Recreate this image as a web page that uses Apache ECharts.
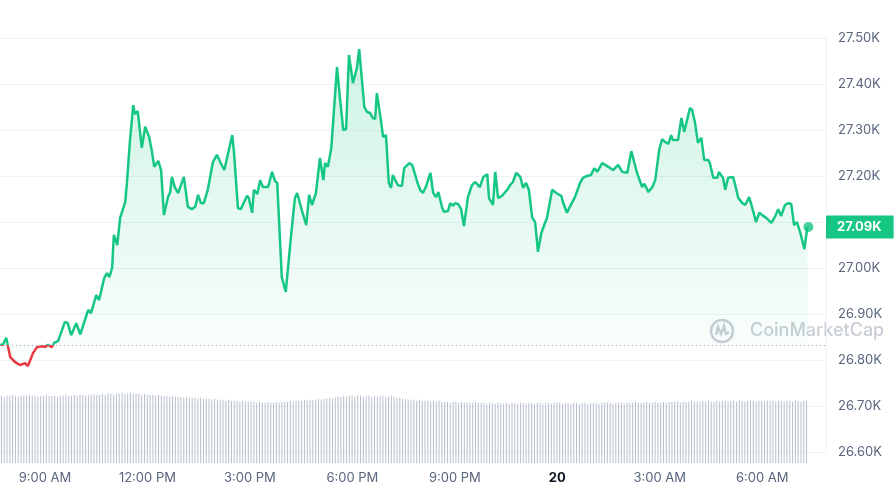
<!DOCTYPE html>
<html>
<head>
<meta charset="utf-8">
<title>BTC price, 24h</title>
<script src="https://cdn.jsdelivr.net/npm/echarts@6/dist/echarts.min.js"></script>
<style>
  html, body { margin: 0; padding: 0; background: #fff; }
  #chart { width: 896px; height: 495px; }
</style>
</head>
<body>
<div id="chart"></div>
<script>
// -- Data --
// time in minutes from midnight of the 19th (1440 = midnight, the "20" tick)
const times = [
  461, 466, 472, 479, 487, 496, 505, 510, 519, 526,
  535, 540, 545, 552, 556, 563, 575, 580, 586, 595,
  602, 616, 621, 630, 635, 644, 649, 653, 658, 661,
  667, 672, 681, 684, 689, 695, 698, 703, 710, 716,
  723, 728, 732, 739, 744, 749, 756, 760, 763, 768,
  774, 784, 791, 798, 804, 809, 814, 819, 826, 835,
  842, 848, 855, 869, 872, 879, 884, 895, 898, 904,
  907, 913, 918, 923, 932, 939, 944, 948, 956, 963,
  971, 979, 983, 992, 999, 1004, 1009, 1016, 1023, 1029,
  1032, 1037, 1043, 1053, 1058, 1064, 1069, 1074, 1081, 1088,
  1092, 1101, 1106, 1111, 1116, 1120, 1123, 1130, 1134, 1139,
  1144, 1148, 1151, 1160, 1167, 1171, 1180, 1185, 1194, 1199,
  1204, 1209, 1217, 1222, 1227, 1231, 1238, 1241, 1248, 1252,
  1257, 1260, 1266, 1271, 1276, 1283, 1290, 1296, 1304, 1310,
  1317, 1320, 1327, 1331, 1336, 1343, 1352, 1357, 1362, 1368,
  1375, 1380, 1385, 1390, 1396, 1401, 1406, 1412, 1419, 1422,
  1426, 1431, 1438, 1447, 1450, 1457, 1462, 1471, 1480, 1485,
  1492, 1499, 1505, 1510, 1519, 1527, 1538, 1547, 1554, 1563,
  1570, 1573, 1580, 1589, 1593, 1600, 1607, 1612, 1619, 1624,
  1629, 1635, 1640, 1643, 1652, 1658, 1663, 1673, 1677, 1682,
  1687, 1693, 1698, 1705, 1708, 1714, 1721, 1724, 1731, 1735,
  1740, 1749, 1758, 1765, 1770, 1777, 1782, 1789, 1795, 1800,
  1807, 1810, 1816, 1823, 1828, 1833, 1840, 1846, 1851, 1856,
  1861, 1867, 1870, 1874, 1879, 1881
];

const prices = [
  26833, 26833, 26848, 26806, 26796, 26789, 26793, 26787, 26815, 26828,
  26830, 26828, 26833, 26828, 26837, 26841, 26883, 26880, 26854, 26880,
  26856, 26909, 26902, 26941, 26930, 26978, 26989, 26980, 27000, 27072,
  27050, 27109, 27143, 27185, 27272, 27354, 27335, 27341, 27261, 27307,
  27285, 27252, 27220, 27233, 27213, 27115, 27154, 27165, 27198, 27176,
  27163, 27198, 27133, 27128, 27133, 27159, 27141, 27141, 27170, 27230,
  27246, 27230, 27213, 27289, 27252, 27130, 27128, 27157, 27152, 27120,
  27170, 27161, 27191, 27176, 27176, 27209, 27189, 27185, 26980, 26948,
  27054, 27152, 27163, 27122, 27093, 27159, 27137, 27163, 27239, 27191,
  27228, 27220, 27261, 27437, 27372, 27300, 27302, 27463, 27402, 27435,
  27476, 27350, 27339, 27337, 27326, 27324, 27380, 27322, 27285, 27289,
  27185, 27174, 27202, 27180, 27178, 27217, 27228, 27224, 27187, 27170,
  27163, 27176, 27207, 27163, 27154, 27165, 27130, 27122, 27124, 27141,
  27135, 27141, 27139, 27128, 27091, 27154, 27180, 27187, 27176, 27198,
  27204, 27152, 27137, 27209, 27152, 27157, 27170, 27180, 27187, 27207,
  27198, 27174, 27185, 27170, 27109, 27100, 27035, 27076, 27100, 27109,
  27137, 27170, 27163, 27157, 27143, 27120, 27133, 27154, 27185, 27196,
  27200, 27202, 27217, 27209, 27228, 27222, 27213, 27224, 27209, 27207,
  27254, 27250, 27207, 27176, 27183, 27165, 27176, 27191, 27257, 27280,
  27274, 27270, 27289, 27278, 27278, 27326, 27296, 27348, 27343, 27315,
  27272, 27283, 27235, 27235, 27228, 27196, 27196, 27209, 27196, 27170,
  27196, 27198, 27152, 27141, 27137, 27154, 27133, 27100, 27120, 27115,
  27109, 27113, 27098, 27113, 27128, 27113, 27137, 27141, 27139, 27093,
  27100, 27076, 27078, 27041, 27087, 27089
];

// 5-minute volume bars (relative units), two hours per row
const volumes = [
  68, 67, 68, 68, 69, 68, 67, 68, 68, 68, 69, 68, 68, 67, 68, 68, 69, 68, 68, 68, 67, 68, 68, 69,
  68, 68, 69, 68, 69, 69, 68, 69, 69, 70, 69, 69, 70, 69, 70, 70, 69, 70, 70, 71, 70, 70, 71, 70,
  70, 70, 69, 70, 69, 69, 69, 68, 69, 68, 68, 68, 67, 68, 67, 67, 67, 66, 67, 66, 66, 66, 65, 66,
  65, 65, 65, 64, 65, 64, 64, 64, 63, 64, 63, 63, 63, 62, 63, 62, 62, 62, 62, 61, 62, 61, 61, 62,
  61, 61, 62, 61, 62, 62, 62, 63, 62, 63, 63, 63, 64, 63, 64, 64, 64, 65, 64, 65, 65, 66, 65, 66,
  67, 67, 68, 67, 68, 68, 67, 68, 68, 67, 68, 68, 67, 68, 67, 68, 68, 67, 67, 68, 67, 66, 66, 65,
  65, 64, 64, 64, 63, 64, 63, 63, 63, 62, 63, 62, 63, 62, 62, 62, 61, 62, 62, 61, 62, 61, 61, 61,
  61, 62, 61, 61, 61, 60, 61, 61, 60, 61, 61, 60, 61, 60, 61, 61, 60, 61, 61, 60, 61, 61, 60, 61,
  61, 60, 61, 61, 60, 61, 61, 61, 60, 61, 61, 60, 61, 61, 60, 61, 61, 60, 61, 61, 61, 60, 61, 61,
  61, 61, 60, 61, 61, 61, 60, 61, 61, 61, 62, 61, 61, 61, 62, 61, 61, 62, 61, 61, 62, 61, 62, 62,
  62, 62, 61, 62, 62, 62, 63, 62, 62, 62, 63, 62, 63, 62, 62, 63, 62, 63, 63, 62, 63, 63, 62, 63,
  63, 62, 63, 63, 63, 62, 63, 63, 62, 63, 63, 63, 62, 63, 63, 62, 63, 63, 62, 63, 63, 62, 63, 63
];

const openPrice = 26833;            // dotted reference line, red below / green above
const labelTimes = [540, 720, 900, 1080, 1260, 1440, 1620, 1800];
const axisEnd = 1912;               // axis runs a little past the last sample

// -- Theme colors --
const COLORS = {
  up: '#16c784',
  down: '#ea3943',
  text: '#58667e',
  strong: '#0d1421',
  grid: '#eff2f5',
  volume: '#b7bfcc',
  watermark: '#c9ced6'
};

const fmtK = v => (v / 1000).toFixed(2) + 'K';

function clock(m) {
  if (m === 1440) return '{day|20}';
  const h = Math.floor(m / 60) % 24;
  const mm = String(m % 60).padStart(2, '0');
  const h12 = h % 12 === 0 ? 12 : h % 12;
  return `${h12}:${mm} ${h < 12 ? 'AM' : 'PM'}`;
}

const priceData = times.map((t, i) => [t, prices[i]]);
const last = priceData[priceData.length - 1];
const volSlots = volumes.map((_, i) => i);

const chart = echarts.init(document.getElementById('chart'), null, { renderer: 'canvas' });

chart.setOption({
  animation: false,
  textStyle: { fontFamily: 'Inter, "Noto Sans", sans-serif' },
  grid: [
    { left: 0, right: 70, top: 38, bottom: 43 },
    { left: 0, right: 88, top: 380, bottom: 32 }
  ],
  visualMap: {
    show: false,
    type: 'piecewise',
    seriesIndex: 0,
    dimension: 1,
    pieces: [
      { gte: 26000, lt: openPrice, color: COLORS.down },
      { gte: openPrice, lte: 28000, color: COLORS.up }
    ],
    outOfRange: { color: COLORS.up }
  },
  xAxis: [
    {
      type: 'value',
      gridIndex: 0,
      min: times[0],
      max: axisEnd,
      axisLine: { show: false },
      axisTick: { show: false },
      splitLine: { show: false },
      axisLabel: {
        customValues: labelTimes,
        formatter: clock,
        color: COLORS.text,
        fontSize: 13,
        margin: 20,
        rich: { day: { fontWeight: 'bold', color: COLORS.strong, fontSize: 13 } }
      }
    },
    {
      type: 'category',
      gridIndex: 1,
      data: volSlots,
      show: false
    }
  ],
  yAxis: [
    {
      type: 'value',
      gridIndex: 0,
      position: 'right',
      min: 26600,
      max: 27500,
      interval: 100,
      axisLine: { show: true, lineStyle: { color: COLORS.grid } },
      axisTick: { show: false },
      splitLine: { lineStyle: { color: COLORS.grid } },
      axisLabel: {
        color: COLORS.text,
        fontSize: 13,
        margin: 12,
        // the live price tag covers the tick it sits on
        formatter: v => (Math.abs(v - last[1]) < 25 ? '' : fmtK(v))
      },
      axisPointer: {
        show: true,
        type: 'line',
        value: last[1],
        status: 'show',
        triggerTooltip: false,
        lineStyle: { width: 0, opacity: 0 },
        label: {
          show: true,
          margin: 0,
          backgroundColor: COLORS.up,
          color: '#fff',
          fontWeight: 'bold',
          fontSize: 13,
          padding: [5, 12, 5, 11],
          borderRadius: 0,
          shadowBlur: 0,
          formatter: p => fmtK(p.value)
        }
      }
    },
    { type: 'value', gridIndex: 1, min: 0, max: 84, show: false }
  ],
  graphic: [
    { type: 'circle', silent: true, shape: { cx: 722, cy: 331, r: 11 },
      style: { fill: 'none', stroke: COLORS.watermark, lineWidth: 2.5 } },
    { type: 'polyline', silent: true,
      shape: { points: [[716, 335], [718, 327], [721, 334], [724, 326], [726, 334], [729, 332]] },
      style: { fill: 'none', stroke: COLORS.watermark, lineWidth: 2.5 } },
    { type: 'text', silent: true,
      style: { x: 750, y: 331, text: 'CoinMarketCap', verticalAlign: 'middle',
               font: '500 18px Inter, sans-serif', fill: COLORS.watermark } }
  ],
  series: [
    {
      type: 'line',
      xAxisIndex: 0,
      yAxisIndex: 0,
      data: priceData,
      showSymbol: false,
      lineStyle: { width: 2.5 },
      areaStyle: {
        origin: openPrice,
        color: new echarts.graphic.LinearGradient(0, 0, 0, 1, [
          { offset: 0, color: 'rgba(22,199,132,0.30)' },
          { offset: 1, color: 'rgba(22,199,132,0.02)' }
        ])
      },
      markLine: {
        silent: true,
        symbol: 'none',
        label: { show: false },
        lineStyle: { type: [1, 3], color: '#9aa5b8', width: 1 },
        data: [{ yAxis: openPrice }]
      },
      z: 3
    },
    {
      type: 'scatter',
      xAxisIndex: 0,
      yAxisIndex: 0,
      data: [last],
      symbolSize: 10,
      itemStyle: { color: COLORS.up },
      silent: true,
      z: 4
    },
    {
      type: 'bar',
      xAxisIndex: 1,
      yAxisIndex: 1,
      data: volumes,
      barWidth: 1,
      itemStyle: { color: COLORS.volume },
      silent: true
    }
  ]
});

window.addEventListener('resize', () => chart.resize());
</script>
</body>
</html>
